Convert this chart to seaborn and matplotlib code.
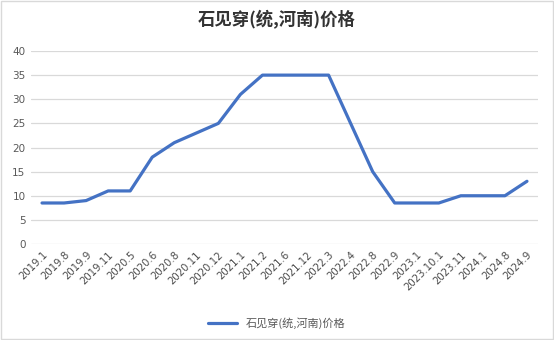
import matplotlib
matplotlib.use("Agg")
import matplotlib.pyplot as plt
import seaborn as sns
import pandas as pd

dates = ["2019.1", "2019.8", "2019.9", "2019.11", "2020.5", "2020.6", "2020.8",
         "2020.11", "2020.12", "2021.1", "2021.2", "2021.6", "2021.12", "2022.3",
         "2022.4", "2022.8", "2022.9", "2023.1", "2023.10.1", "2023.11",
         "2024.1", "2024.8", "2024.9"]
prices = [8.5, 8.5, 9, 11, 11, 18, 21, 23, 25, 31, 35, 35, 35, 35,
          25, 15, 8.5, 8.5, 8.5, 10, 10, 10, 13]
series_name = "石见穿(统,河南)价格"
title = "石见穿(统,河南)价格"
y_ticks = [0, 5, 10, 15, 20, 25, 30, 35, 40]

sns.set_theme(style="white")
plt.rcParams["font.family"] = ["Noto Sans CJK SC", "DejaVu Sans"]

df = pd.DataFrame({"idx": range(len(dates)), "price": prices})

fig = plt.figure(figsize=(5.54, 3.4), dpi=100)
ax = fig.add_axes([31 / 554, 1 - 244 / 340, (538 - 31) / 554, (244 - 51) / 340])

sns.lineplot(data=df, x="idx", y="price", ax=ax, color="#4472C4",
             linewidth=2.3, label=series_name, legend=False)

ax.set_xlim(-0.5, len(dates) - 0.5)
ax.set_ylim(0, 40)
ax.set_yticks(y_ticks)
ax.set_yticklabels([str(v) for v in y_ticks], fontsize=7.5, color="#595959",
                   family=["DejaVu Sans"])
ax.set_xticks(range(len(dates)))
ax.set_xticklabels(dates, rotation=45, ha="right", rotation_mode="anchor",
                   fontsize=7.3, color="#4a4a4a", family=["DejaVu Sans"])
ax.tick_params(axis="both", length=0, pad=4)
ax.yaxis.grid(True, color="#D9D9D9", linewidth=0.9)
ax.xaxis.grid(False)
for s in ax.spines.values():
    s.set_visible(False)
ax.set_xlabel("")
ax.set_ylabel("")

fig.text(0.5, 1 - 20 / 340, title, ha="center", va="center",
         fontsize=12.5, fontweight="bold", color="#333333")

handles, labels = ax.get_legend_handles_labels()
fig.legend(handles, labels, loc="center", bbox_to_anchor=(0.5, 1 - 323 / 340),
           frameon=False, fontsize=8, handlelength=2.6, labelcolor="#595959")

# light frame around the whole chart
fig.patches.append(plt.Rectangle((0.002, 0.003), 0.996, 0.994, transform=fig.transFigure,
                                 fill=False, edgecolor="#D9D9D9", linewidth=1.0))

fig.savefig("out.png", dpi=100, facecolor="white")
